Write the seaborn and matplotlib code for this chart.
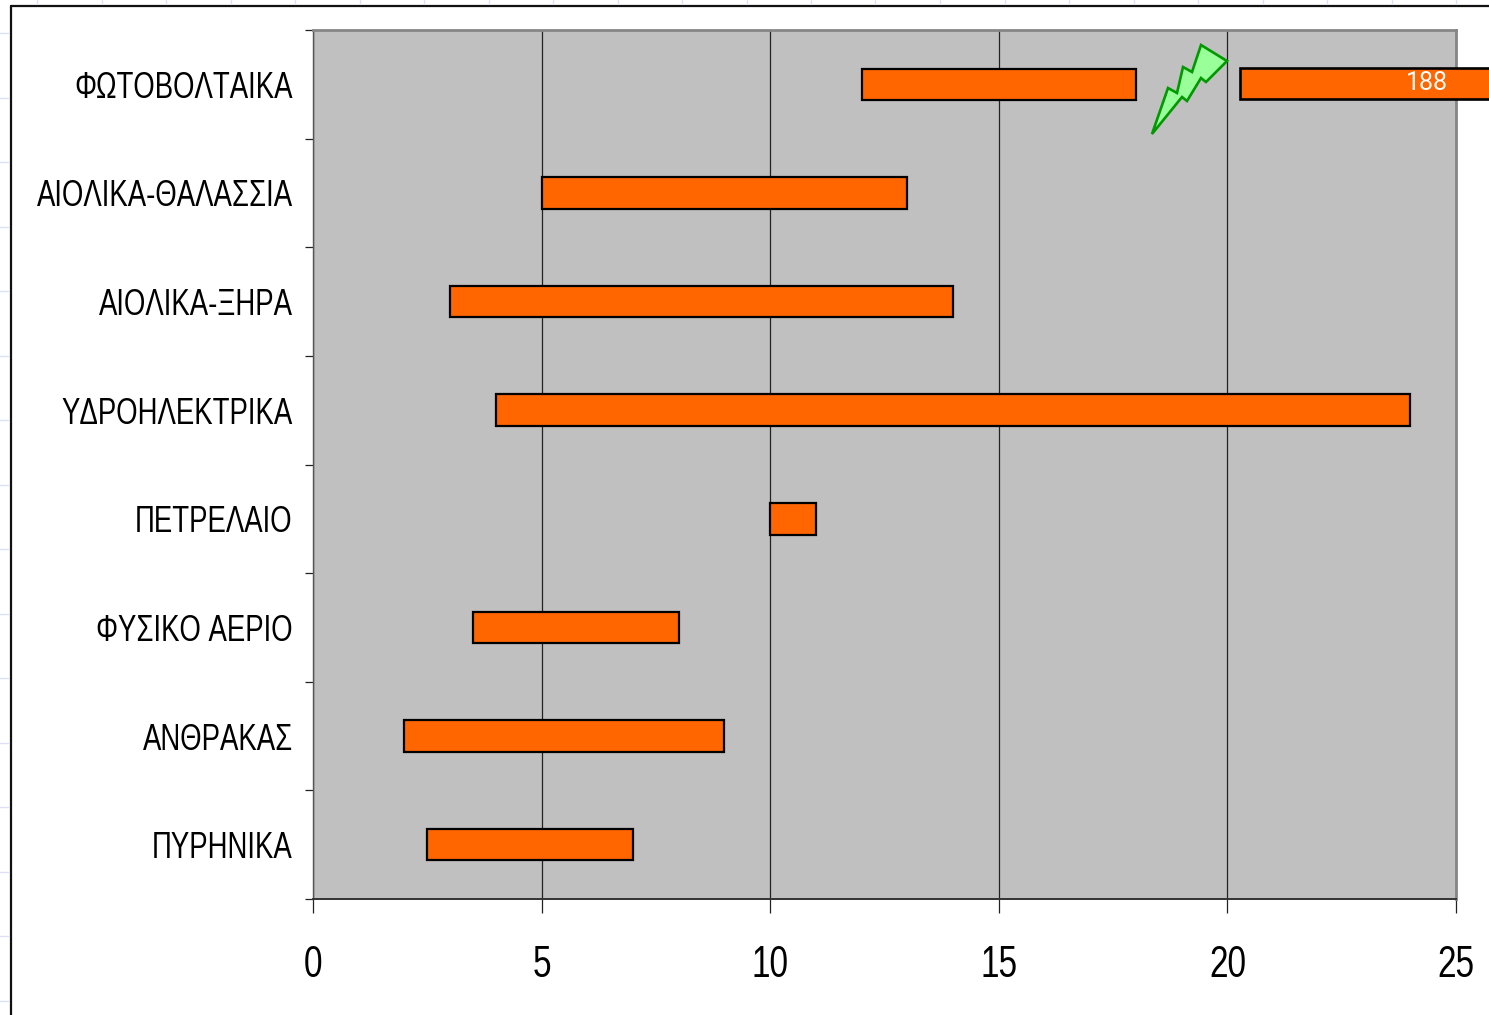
import matplotlib
matplotlib.use("Agg")
import matplotlib.pyplot as plt
import matplotlib.font_manager as fm
from matplotlib.lines import Line2D
from matplotlib.patches import Polygon
from matplotlib.ticker import FixedLocator
from fontTools.ttLib import TTFont
from fontTools.ttLib.tables.ttProgram import Program
import numpy as np
import pandas as pd
import seaborn as sns

categories = ["ΦΩΤΟΒΟΛΤΑΙΚΑ", "ΑΙΟΛΙΚΑ-ΘΑΛΑΣΣΙΑ", "ΑΙΟΛΙΚΑ-ΞΗΡΑ", "ΥΔΡΟΗΛΕΚΤΡΙΚΑ",
              "ΠΕΤΡΕΛΑΙΟ", "ΦΥΣΙΚΟ ΑΕΡΙΟ", "ΑΝΘΡΑΚΑΣ", "ΠΥΡΗΝΙΚΑ"]
range_low = [12, 5, 3, 4, 10, 3.5, 2, 2.5]
range_high = [18, 13, 14, 24, 11, 8, 9, 7]
upper_low = 20.27
upper_high = 188
x_ticks = [0, 5, 10, 15, 20, 25]

W, H = 1489, 1015
ORANGE = "#FF6600"
CONDENSED = "Liberation Sans Cond"


def build_condensed_font(scale=0.75, path="liberation_cond.ttf"):
    """Write a horizontally condensed copy of Liberation Sans and register it."""
    font = TTFont(fm.findfont("Liberation Sans"))
    glyf = font["glyf"]
    for name in glyf.keys():
        glyph = glyf[name]
        if glyph.isComposite():
            for comp in glyph.components:
                comp.x = round(comp.x * scale)
        elif glyph.numberOfContours > 0:
            glyph.coordinates.scale((scale, 1))
            glyph.coordinates.toInt()
        if hasattr(glyph, "program"):
            glyph.program = Program()
            glyph.program.fromBytecode(b"")
        glyph.recalcBounds(glyf)
    hmtx = font["hmtx"]
    for name, (adv, lsb) in list(hmtx.metrics.items()):
        hmtx.metrics[name] = (round(adv * scale), round(lsb * scale))
    for tag in ("fpgm", "prep", "cvt ", "hdmx", "VDMX", "LTSH", "kern", "GPOS", "GSUB", "GDEF"):
        if tag in font:
            del font[tag]
    for record in font["name"].names:
        if record.nameID in (1, 4, 16):
            record.string = CONDENSED
        elif record.nameID == 6:
            record.string = CONDENSED.replace(" ", "")
    font.save(path)
    fm.fontManager.addfont(path)


sns.set_theme(style="white")
build_condensed_font()
plt.rcParams["font.family"] = [CONDENSED, "DejaVu Sans"]

fig = plt.figure(figsize=(W / 100, H / 100), dpi=100, facecolor="white")
ax = fig.add_axes([313 / W, 1 - 899 / H, (1456 - 313) / W, (899 - 30) / H], facecolor="#C0C0C0")

df = pd.DataFrame({"source": categories,
                   "span": np.array(range_high) - np.array(range_low)})
bar_style = dict(color=ORANGE, edgecolor="black", linewidth=1.6, width=0.29,
                 saturation=1, zorder=3, orient="y")
sns.barplot(data=df, x="span", y="source", order=categories, left=range_low, ax=ax, **bar_style)

# The off-scale photovoltaic maximum continues past the plot area after the break.
upper = pd.DataFrame({"source": categories[:1], "span": [upper_high - upper_low]})
sns.barplot(data=upper, x="span", y="source", order=categories, left=upper_low, ax=ax, **bar_style)
for patch in ax.patches:
    patch.set_clip_on(False)
ax.patches[-1].set_y(ax.patches[-1].get_y() - 0.009)
ax.patches[-1].set_linewidth(1.9)

ax.set_xlim(0, 25)
ax.set_ylim(len(categories) - 0.5, -0.5)
ax.set_xlabel("")
ax.set_ylabel("")
ax.set_xticks(x_ticks)
ax.set_xticklabels([str(t) for t in x_ticks])
ax.grid(axis="x", color="#222222", linewidth=0.9, zorder=1)
ax.grid(axis="y", visible=False)
ax.set_axisbelow(True)

ax.yaxis.set_minor_locator(FixedLocator(np.arange(-0.5, len(categories) + 0.5)))
ax.tick_params(axis="y", which="major", length=0, pad=14.5, labelsize=26.5, labelcolor="black")
ax.tick_params(axis="y", which="minor", left=True, length=6, width=0.9, color="#222222")
ax.tick_params(axis="x", which="major", bottom=True, length=10, width=0.9, color="#222222",
               pad=23, labelsize=32, labelcolor="black")

ax.spines["left"].set(color="#555555", linewidth=1.0)
ax.spines["bottom"].set(color="#333333", linewidth=1.4)
ax.spines["top"].set(color="#868686", linewidth=2.0)
ax.spines["right"].set(color="#868686", linewidth=2.0)

ax.text(1427 / W, 1 - 82.5 / H, str(upper_high), transform=fig.transFigure, color="white",
        fontsize=18, family="Roboto", ha="center", va="center", zorder=6)

# Lightning symbol marking the axis break, laid out in figure pixels.
bolt_x = [1152, 1168, 1177, 1183, 1192, 1201, 1227, 1206, 1201, 1187, 1182]
bolt_y = [134, 88, 93, 67, 72, 45, 61, 82, 78, 101, 97]
bolt = Polygon(np.column_stack([np.array(bolt_x) / W, 1 - np.array(bolt_y) / H]),
               closed=True, transform=fig.transFigure, facecolor="#99FF99",
               edgecolor="#009900", linewidth=1.9, zorder=7, clip_on=False)
ax.add_patch(bolt)

# Outer frame of the slide along the top and left edges.
fig.add_artist(Line2D([10.5 / W, 1], [1 - 6 / H, 1 - 6 / H], color="#111111", linewidth=1.6))
fig.add_artist(Line2D([10.5 / W, 10.5 / W], [0, 1 - 6 / H], color="#111111", linewidth=1.6))

# Pale ruler ticks of the slide's page guides, outside the frame.
for px in np.arange(37, W, 64.5):
    fig.add_artist(Line2D([px / W] * 2, [1 - 4 / H, 1], color="#DDE1F7", linewidth=1.0))
for py in np.arange(33, H, 64.5):
    fig.add_artist(Line2D([0, 8 / W], [1 - py / H] * 2, color="#DDE1F7", linewidth=1.0))

fig.savefig("out.png", dpi=100)
